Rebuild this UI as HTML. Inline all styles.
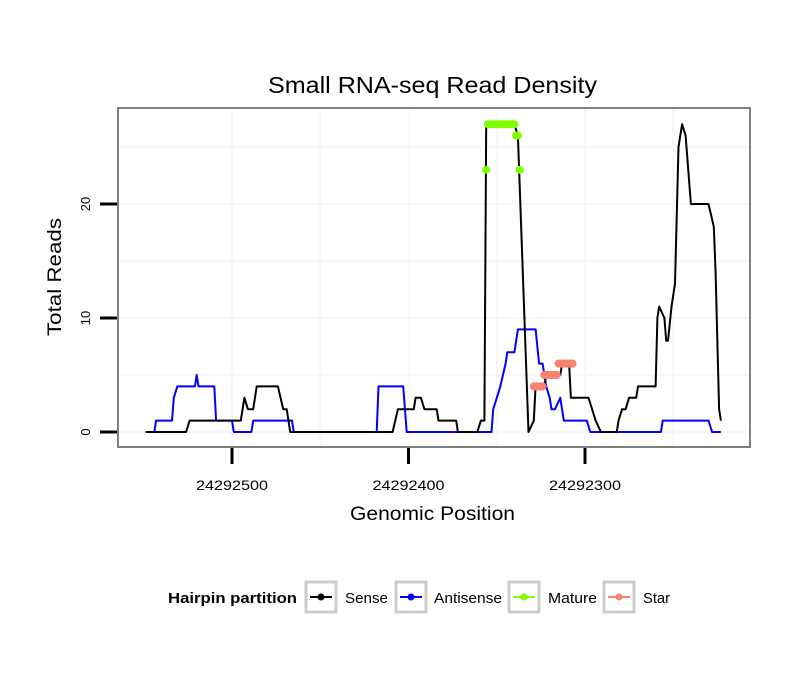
<!DOCTYPE html>
<html><head><meta charset="utf-8"><style>
body{margin:0;background:#fff;}
svg{display:block;font-family:"Liberation Sans",sans-serif;}
</style></head><body>
<svg id="chart" width="810" height="690" viewBox="0 0 810 690">
<rect width="810" height="690" fill="#fff"/>
<text x="268" y="93" textLength="329" lengthAdjust="spacingAndGlyphs" font-size="23">Small RNA-seq Read Density</text>
<g id="grid"></g>
<g id="series"></g>
<rect x="118" y="108" width="632" height="339" fill="none" stroke="#808080" stroke-width="2"/>
<g id="axes"></g>
<text x="350" y="520" textLength="165" lengthAdjust="spacingAndGlyphs" font-size="19">Genomic Position</text>
<text transform="translate(61,336) rotate(-90)" textLength="118" lengthAdjust="spacingAndGlyphs" font-size="19">Total Reads</text>
<g>
<text x="168" y="603" textLength="129" lengthAdjust="spacingAndGlyphs" font-size="15" font-weight="bold">Hairpin partition</text>
<g><rect x="306" y="582" width="30" height="30" fill="#fff" stroke="#ccc" stroke-width="3"/><line x1="310" y1="597" x2="332" y2="597" stroke="#000" stroke-width="2"/><circle cx="321" cy="597" r="3.5" fill="#000"/><text x="345" y="603" font-size="15" textLength="43" lengthAdjust="spacingAndGlyphs">Sense</text></g>
<g><rect x="396" y="582" width="30" height="30" fill="#fff" stroke="#ccc" stroke-width="3"/><line x1="400" y1="597" x2="422" y2="597" stroke="#0000ff" stroke-width="2"/><circle cx="411" cy="597" r="3.5" fill="#0000ff"/><text x="434" y="603" font-size="15" textLength="68" lengthAdjust="spacingAndGlyphs">Antisense</text></g>
<g><rect x="509" y="582" width="30" height="30" fill="#fff" stroke="#ccc" stroke-width="3"/><line x1="513" y1="597" x2="535" y2="597" stroke="#7fff00" stroke-width="2"/><circle cx="524" cy="597" r="3.5" fill="#7fff00"/><text x="548" y="603" font-size="15" textLength="49" lengthAdjust="spacingAndGlyphs">Mature</text></g>
<g><rect x="604" y="582" width="30" height="30" fill="#fff" stroke="#ccc" stroke-width="3"/><line x1="608" y1="597" x2="630" y2="597" stroke="#fa8072" stroke-width="2"/><circle cx="619" cy="597" r="3.5" fill="#fa8072"/><text x="643" y="603" font-size="15" textLength="27" lengthAdjust="spacingAndGlyphs">Star</text></g>
</g>
</svg>
<script>
const senseX=[24292549,24292526,24292524,24292495,24292494,24292493,24292491,24292488,24292486,24292474,24292471,24292469,24292467,24292409,24292406,24292397,24292396,24292393,24292391,24292384,24292383,24292373,24292372,24292361,24292359,24292357,24292356,24292340,24292338,24292332,24292329,24292328,24292323,24292322,24292314,24292313,24292309,24292308,24292298,24292296,24292294,24292291,24292282,24292281,24292279,24292277,24292275,24292271,24292270,24292260,24292259,24292258,24292255,24292254,24292253,24292251,24292249,24292247,24292245,24292243,24292240,24292230,24292227,24292226,24292224,24292223];
const senseY=[0,0,1,1,2,3,2,2,4,4,2,2,0,0,2,2,3,3,2,2,1,1,0,0,1,1,27,27,26,0,1,4,4,5,5,6,6,3,3,2,1,0,0,1,2,2,3,3,4,4,10,11,10,8,8,11,13,25,27,26,20,20,18,14,2,1];
const antiX=[24292544,24292543,24292534,24292533,24292531,24292521,24292520,24292519,24292510,24292509,24292500,24292499,24292489,24292488,24292466,24292465,24292418,24292417,24292403,24292401,24292353,24292352,24292350,24292348,24292345,24292344,24292340,24292338,24292328,24292326,24292324,24292323,24292322,24292320,24292319,24292317,24292314,24292312,24292299,24292297,24292257,24292256,24292230,24292228,24292223];
const antiY=[0,1,1,3,4,4,5,4,4,1,1,0,0,1,1,0,0,4,4,0,0,2,3,4,6,7,7,9,9,6,6,5,4,3,2,2,3,1,1,0,0,1,1,0,0];
const matureX=[24292356,24292355,24292354,24292353,24292352,24292351,24292350,24292349,24292348,24292347,24292346,24292345,24292344,24292343,24292342,24292341,24292340,24292339,24292338,24292337];
const matureY=[23,27,27,27,27,27,27,27,27,27,27,27,27,27,27,27,27,26,26,23];
const starX=[24292329,24292328,24292327,24292326,24292325,24292324,24292323,24292322,24292321,24292320,24292319,24292318,24292317,24292316,24292315,24292314,24292313,24292312,24292311,24292310,24292309,24292308,24292307];
const starY=[4,4,4,4,4,4,5,5,5,5,5,5,5,5,6,6,6,6,6,6,6,6,6];
const xTicks=[24292500,24292400,24292300];
const yTicks=[0,10,20];
const xMinorGrid=[24292450,24292350,24292250];
const yMinorGrid=[5,15,25];

const NS='http://www.w3.org/2000/svg';
function sx(p){return 232+(24292500-p)*1.765;}
function sy(v){return 432-v*11.4;}
function mk(tag,attrs,parent){const e=document.createElementNS(NS,tag);for(const k in attrs)e.setAttribute(k,attrs[k]);parent.appendChild(e);return e;}
const grid=document.getElementById('grid'),series=document.getElementById('series'),axes=document.getElementById('axes');
xMinorGrid.concat(xTicks).forEach(p=>{const l=mk('line',{x1:sx(p),x2:sx(p),y1:109,y2:446,stroke:'#f7f7f7','stroke-width':2},grid);

});
yMinorGrid.concat(yTicks).forEach(v=>{const l=mk('line',{x1:119,x2:749,y1:sy(v),y2:sy(v),stroke:'#f7f7f7','stroke-width':2},grid);

});
function line(xs,ys,color,name){const pts=xs.map((p,i)=>sx(p).toFixed(1)+','+sy(ys[i]).toFixed(1)).join(' ');
const e=mk('polyline',{points:pts,fill:'none',stroke:color,'stroke-width':2,'stroke-linejoin':'round'},series);

}
line(antiX,antiY,'#0000ff','antisense-line');
line(senseX,senseY,'#000000','sense-line');
function pts(xs,ys,color,name){xs.forEach((p,i)=>{const c=mk('circle',{cx:sx(p),cy:sy(ys[i]),r:4,fill:color},series);

});}
pts(matureX,matureY,'#7fff00','mature-point');
pts(starX,starY,'#fa8072','star-point');
xTicks.forEach(p=>{const t=mk('line',{x1:sx(p),x2:sx(p),y1:448,y2:464,stroke:'#000','stroke-width':3},axes);


const l=mk('text',{x:sx(p)-36,y:490,'font-size':14,textLength:72,lengthAdjust:'spacingAndGlyphs'},axes);l.textContent=p;

});
yTicks.forEach(v=>{const t=mk('line',{x1:100,x2:117,y1:sy(v),y2:sy(v),stroke:'#000','stroke-width':3},axes);


const l=mk('text',{transform:'translate(90,'+sy(v)+') rotate(-90)','text-anchor':'middle','font-size':13},axes);l.textContent=v;

});
</script>
</body></html>
